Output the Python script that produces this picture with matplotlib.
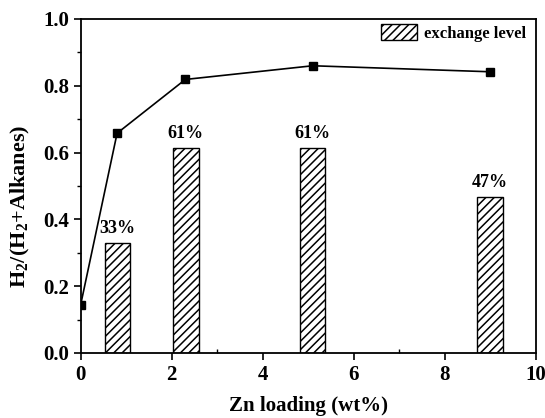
import numpy as np
import matplotlib.pyplot as plt
from matplotlib.ticker import MultipleLocator

plt.rcParams['font.family'] = ['Liberation Serif', 'DejaVu Serif']
plt.rcParams['font.weight'] = 'bold'
plt.rcParams['mathtext.fontset'] = 'custom'
plt.rcParams['mathtext.rm'] = 'Liberation Serif:bold'
plt.rcParams['mathtext.bf'] = 'Liberation Serif:bold'
plt.rcParams['hatch.linewidth'] = 1.1

# H2 selectivity line
zn = [0.0, 0.8, 2.3, 5.1, 9.0]
h2_ratio = [0.145, 0.658, 0.819, 0.860, 0.842]

# exchange level bars
bar_x = [0.81, 2.31, 5.10, 9.00]
exch = [0.33, 0.613, 0.614, 0.467]
exch_labels = ['33%', '61%', '61%', '47%']

fig = plt.figure(figsize=(5.45, 4.18), dpi=100)
ax = fig.add_axes([80.7 / 545, 65 / 418, 455 / 545, 334 / 418])

ax.bar(bar_x, exch, width=0.56, facecolor='white', edgecolor='black',
       hatch='////', linewidth=1.0, label='exchange level', zorder=2)
for x, h, s in zip(bar_x, exch, exch_labels):
    ax.text(x, h + 0.018, s, ha='center', va='bottom', fontsize=13,
            fontweight='bold')

ax.plot(zn, h2_ratio, 's-', color='black', ms=6, lw=1.2, zorder=3)

ax.set_xlim(0, 10)
ax.set_ylim(0, 1.0)
ax.xaxis.set_major_locator(MultipleLocator(2))
ax.xaxis.set_minor_locator(MultipleLocator(1))
ax.yaxis.set_major_locator(MultipleLocator(0.2))
ax.yaxis.set_minor_locator(MultipleLocator(0.1))
ax.yaxis.set_major_formatter(plt.FormatStrFormatter('%.1f'))
ax.tick_params(which='major', direction='out', length=5, width=1.2,
               labelsize=15)
ax.tick_params(axis='x', which='minor', direction='in', length=3, width=1.0)
ax.tick_params(axis='y', which='minor', direction='out', length=3, width=1.0)
for sp in ax.spines.values():
    sp.set_linewidth(1.3)

ax.set_xlabel('Zn loading (wt%)', fontsize=15, fontweight='bold', labelpad=8)
ax.set_ylabel(r'H$_2$/(H$_2$+Alkanes)', fontsize=16, fontweight='bold')
ax.yaxis.set_label_coords(-0.107, 0.44)

ax.legend(loc='upper right', bbox_to_anchor=(0.99, 1.0), frameon=False,
          fontsize=12, handlelength=2.2, handleheight=1.1,
          borderaxespad=0.0, borderpad=0.3, handletextpad=0.4)

fig.savefig('out.png', dpi=100)
